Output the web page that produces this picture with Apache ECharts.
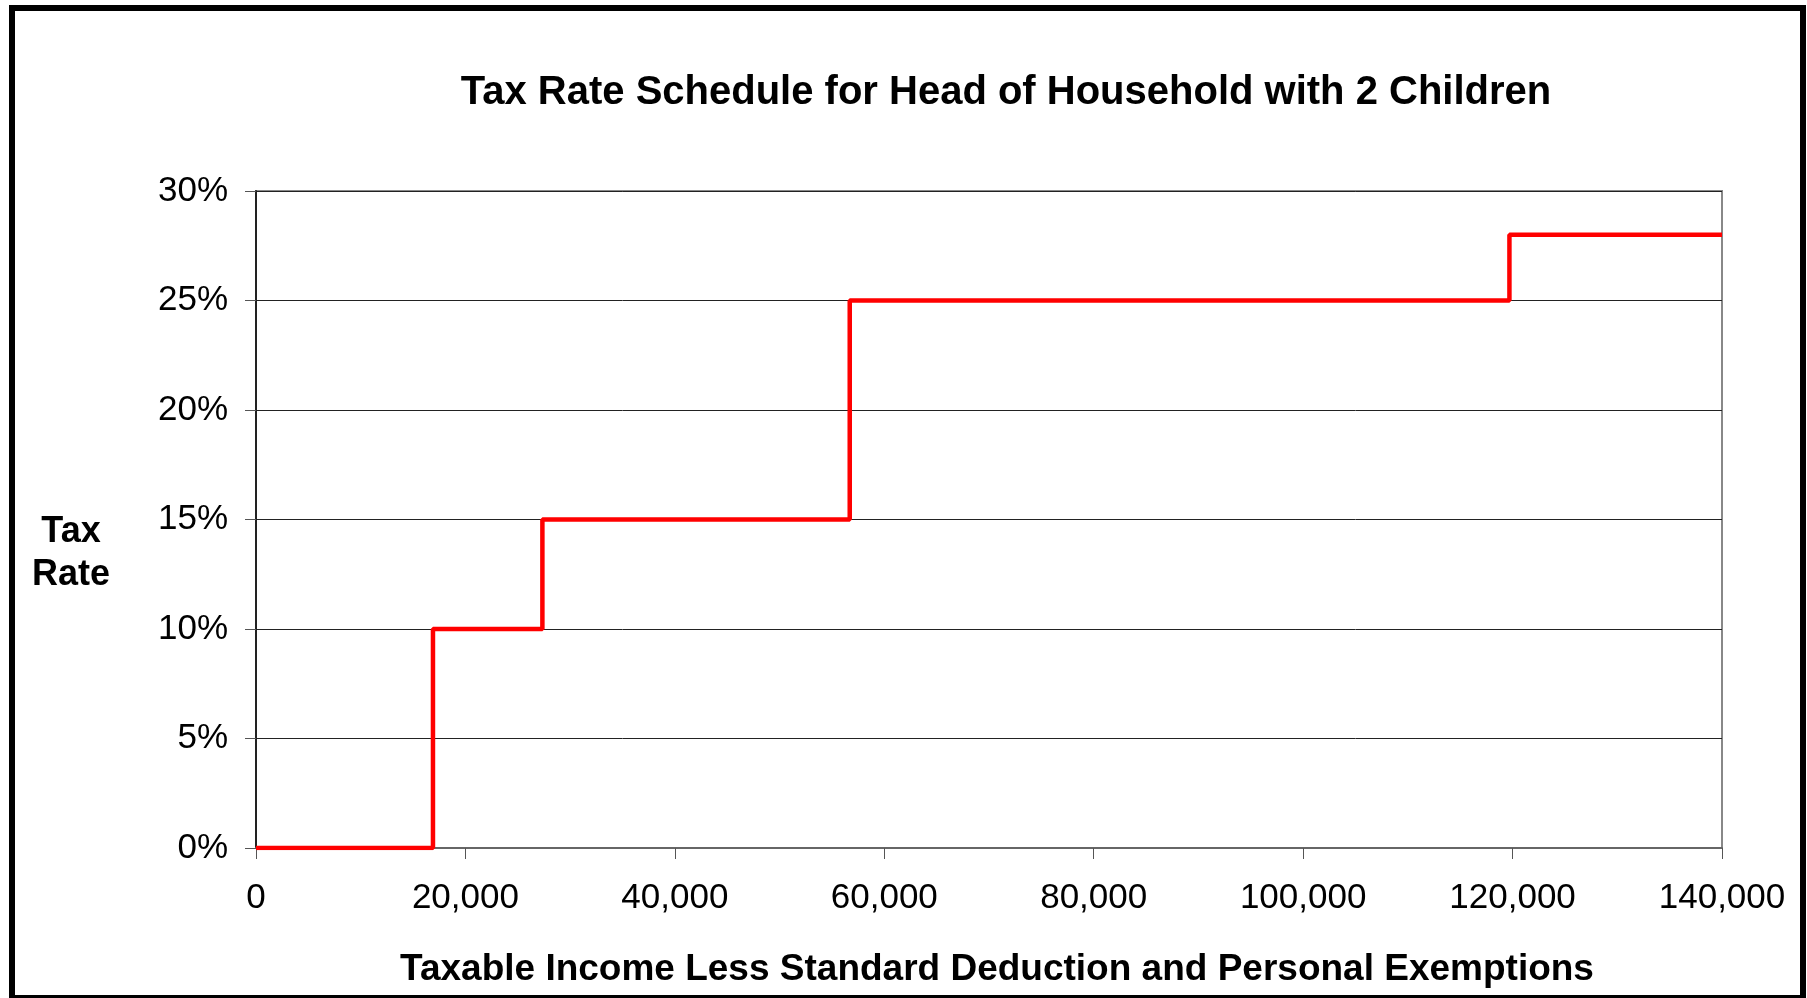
<!DOCTYPE html>
<html>
<head>
<meta charset="utf-8">
<script src="https://cdn.jsdelivr.net/npm/echarts@6/dist/echarts.min.js"></script>
<style>
html,body{margin:0;padding:0;background:#fff;}
#chart{width:1807px;height:998px;}
</style>
</head>
<body>
<div id="chart"></div>
<script>
// Bracket thresholds (taxable income) and the marginal rate that starts there (%)
const thresholds = [0, 16900, 27350, 56700, 119700, 140000];
const rates = [0, 10, 15, 25, 28, 28];
const xTicks = [0, 20000, 40000, 60000, 80000, 100000, 120000, 140000];
const yTicks = [0, 5, 10, 15, 20, 25, 30];

const titleText = 'Tax Rate Schedule for Head of Household with 2 Children';
const xName = 'Taxable Income Less Standard Deduction and Personal Exemptions';
const yName = 'Tax\nRate';

const FONT = "'Liberation Sans', Arial, sans-serif";
const chart = echarts.init(document.getElementById('chart'), null, {renderer: 'canvas'});

const data = thresholds.map((t, i) => [t, rates[i]]);

chart.setOption({
  animation: false,
  backgroundColor: '#fff',
  title: [{
    text: titleText,
    left: 1001,
    top: 68,
    textAlign: 'center',
    textStyle: {fontFamily: FONT, fontWeight: 'bold', fontSize: 40, color: '#000'}
  }, {
    // y-axis name
    text: yName,
    left: 66,
    top: 506,
    textAlign: 'center',
    textStyle: {fontFamily: FONT, fontWeight: 'bold', fontSize: 36, color: '#000', lineHeight: 43}
  }, {
    // x-axis name
    text: xName,
    left: 992,
    top: 943,
    textAlign: 'center',
    textStyle: {fontFamily: FONT, fontWeight: 'bold', fontSize: 37, color: '#000', lineHeight: 44}
  }],
  grid: {
    left: 256, right: 85, top: 191, bottom: 150,
    show: true, borderColor: '#888', borderWidth: 2, backgroundColor: 'transparent'
  },
  xAxis: {
    type: 'value',
    min: xTicks[0], max: xTicks[xTicks.length - 1], interval: 20000,
    axisLine: {show: true, lineStyle: {color: '#666', width: 2}},
    axisTick: {show: true, inside: false, length: 11, lineStyle: {color: '#555', width: 1}},
    splitLine: {show: false},
    axisLabel: {
      fontFamily: FONT, fontSize: 35, color: '#000', margin: 33,
      formatter: v => v.toLocaleString('en-US')
    }
  },
  yAxis: {
    type: 'value',
    min: yTicks[0], max: yTicks[yTicks.length - 1], interval: 5,
    axisLine: {show: true, lineStyle: {color: '#222', width: 2}},
    axisTick: {show: true, inside: false, length: 11, lineStyle: {color: '#555', width: 1}},
    splitLine: {show: true, lineStyle: {color: '#222', width: 1}},
    axisLabel: {
      fontFamily: FONT, fontSize: 35, color: '#000', margin: 28,
      formatter: v => v + '%'
    }
  },
  series: [{
    type: 'line',
    data: data,
    step: 'end',
    showSymbol: false,
    symbol: 'none',
    lineStyle: {color: '#ff0000', width: 4.5},
    z: 5
  }],
  graphic: [{
    type: 'rect',
    shape: {x: 12, y: 8, width: 1791, height: 990},
    style: {fill: 'none', stroke: '#000', lineWidth: 6},
    silent: true,
    z: 100
  }]
});
</script>
</body>
</html>
